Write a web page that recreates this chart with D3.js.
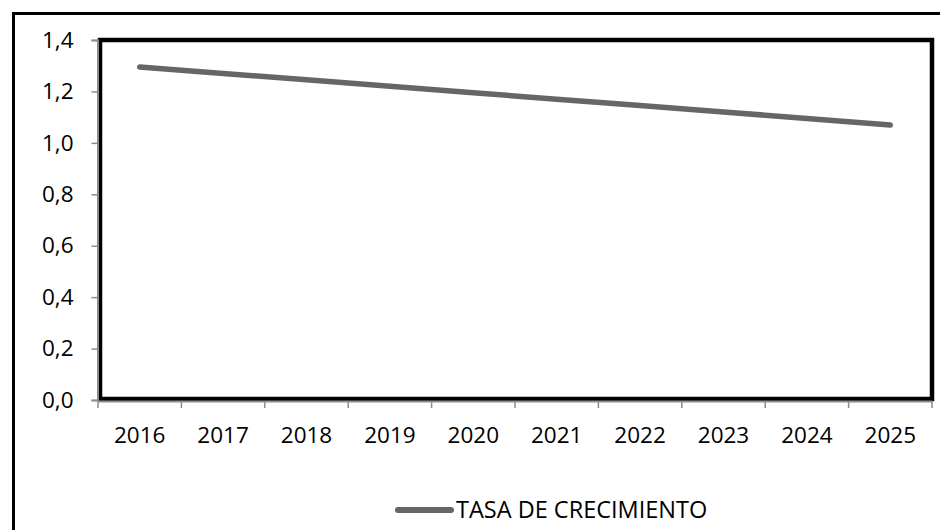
<!DOCTYPE html>
<html>
<head>
<meta charset="utf-8">
<script src="https://cdn.jsdelivr.net/npm/d3@7"></script>
<style>
  body { margin: 0; background: #fff; }
  svg { display: block; }
  svg text { font-family: "Open Sans", sans-serif; fill: #000; }
</style>
</head>
<body>
<div id="chart"></div>
<script>
// data
const years = ['2016', '2017', '2018', '2019', '2020', '2021', '2022', '2023', '2024', '2025']
const tasa = [1.295, 1.270, 1.245, 1.220, 1.195, 1.170, 1.145, 1.120, 1.095, 1.069]
const yTicks = [0, 0.2, 0.4, 0.6, 0.8, 1.0, 1.2, 1.4]
const seriesName = 'TASA DE CRECIMIENTO'

const width = 940
const height = 530
const marginTop = 40
const marginLeft = 98
const marginRight = 8
const marginBottom = 130
const fontSize = 22.5
const lineColor = '#666666'
const axisColor = '#8c8c8c'

const $svg = d3.select('#chart').append('svg')
  .attr('width', width)
  .attr('height', height)

// outer frame (runs off the right and bottom edges)
$svg.append('rect')
  .attr('x', 13.5).attr('y', 13.5)
  .attr('width', width + 20).attr('height', height + 20)
  .attr('fill', 'none')
  .attr('stroke', '#000')
  .attr('stroke-width', 3)

const scaleX = d3.scaleBand()
  .domain(years)
  .range([marginLeft, width - marginRight])

const scaleY = d3.scaleLinear()
  .domain([0, 1.4])
  .range([height - marginBottom, marginTop])

const fmt = d => d3.format('.1f')(d).replace('.', ',')

// plot frame
$svg.append('rect')
  .attr('x', marginLeft + 2)
  .attr('y', marginTop)
  .attr('width', width - marginRight - marginLeft - 2)
  .attr('height', scaleY(0) - marginTop - 1)
  .attr('fill', 'none')
  .attr('stroke', '#000')
  .attr('stroke-width', 4.5)

// y axis
const $yAxis = $svg.append('g')
  .attr('transform', `translate(${marginLeft - 0.5}, 0)`)
  .call(d3.axisLeft(scaleY).tickValues(yTicks).tickFormat(fmt).tickSize(6).tickPadding(18))
$yAxis.attr('font-family', null).attr('font-size', null)
$yAxis.selectAll('.tick text').style('font-size', fontSize + 'px')

// x axis, ticks at category boundaries
const $xAxis = $svg.append('g')
  .attr('transform', `translate(0, ${scaleY(0) + 1})`)
  .call(d3.axisBottom(scaleX).tickSize(0).tickPadding(26))
$xAxis.attr('font-family', null).attr('font-size', null)
$xAxis.selectAll('.tick text').style('font-size', fontSize + 'px')
$xAxis.selectAll('.boundary')
  .data(years.concat(['end']))
  .enter()
  .append('line')
  .attr('class', 'boundary')
  .attr('x1', (d, i) => i < years.length ? scaleX(d) : scaleX.range()[1])
  .attr('x2', (d, i) => i < years.length ? scaleX(d) : scaleX.range()[1])
  .attr('y1', 0)
  .attr('y2', 7)
  .attr('stroke', axisColor)
  .attr('stroke-width', 1.5)

$svg.selectAll('.domain')
  .attr('stroke', axisColor)
  .attr('stroke-width', 2)
$yAxis.selectAll('.tick line').attr('stroke', axisColor).attr('stroke-width', 1.5)

// line
const line = d3.line()
  .x((d, i) => scaleX(years[i]) + scaleX.bandwidth() / 2)
  .y(d => scaleY(d))

$svg.append('path')
  .datum(tasa)
  .attr('d', line)
  .attr('fill', 'none')
  .attr('stroke', lineColor)
  .attr('stroke-width', 5.5)
  .attr('stroke-linecap', 'round')

// legend
const $legend = $svg.append('g').attr('transform', 'translate(398, 510)')
$legend.append('line')
  .attr('x1', 0).attr('x2', 53)
  .attr('stroke', lineColor)
  .attr('stroke-width', 6)
  .attr('stroke-linecap', 'round')
$legend.append('text')
  .attr('x', 58)
  .attr('y', 8)
  .style('font-size', '23.5px')
  .text(seriesName)
</script>
</body>
</html>
